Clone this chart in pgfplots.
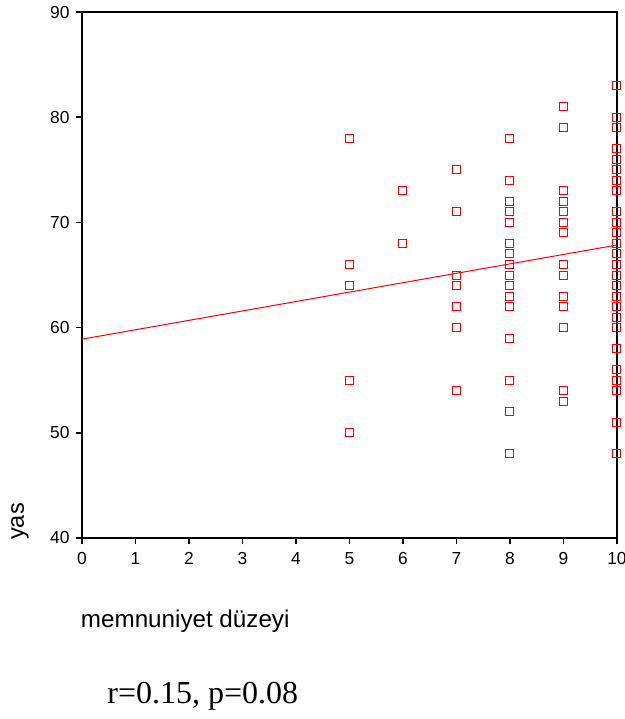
\documentclass[border=0pt]{standalone}
\usepackage{fontspec}
\setmainfont{Liberation Sans}
\newfontfamily\timesfont{Liberation Serif}
\usepackage{pgfplots}
\pgfplotsset{compat=1.18}
\definecolor{ptred}{RGB}{255,0,0}

\begin{document}
\begin{tikzpicture}
  % 1 px of the reference = 0.5pt
  \path[use as bounding box] (-41pt,-90.5pt) rectangle (271.5pt,269pt);
  \begin{axis}[
    at={(0,0)}, anchor=south west,
    scale only axis,
    width=267.5pt, height=263pt,
    xmin=0, xmax=10, ymin=40, ymax=90,
    xtick={0,1,...,10}, ytick={40,50,...,90},
    xtick pos=left, ytick pos=left,
    tick align=outside,
    major tick length=3pt,
    axis line style={line width=0.75pt},
    every tick/.style={black, line width=0.75pt},
    /pgf/number format/assume math mode=true,
    ticklabel style={font=\fontsize{8.7}{10}\selectfont},
    xticklabel style={inner sep=0pt, anchor=base, yshift=-10pt},
    yticklabel style={inner sep=0pt, anchor=east, xshift=-3pt},
    clip=false,
  ]
    \addplot[only marks, mark=square, mark size=2pt, color=ptred,
             mark options={solid, draw=ptred, line width=0.5pt}] coordinates {
      (5,78) (5,66) (5,64) (5,55) (5,50)
      (6,73) (6,68)
      (7,75) (7,71) (7,65) (7,64) (7,62) (7,60) (7,54)
      (8,78) (8,74) (8,72) (8,71) (8,70) (8,70) (8,68) (8,68) (8,67) (8,67)
      (8,66) (8,65) (8,64) (8,64) (8,63) (8,63) (8,62) (8,62) (8,59) (8,55)
      (8,52) (8,48)
      (9,81) (9,79) (9,79) (9,73) (9,72) (9,72) (9,71) (9,70) (9,69) (9,66)
      (9,65) (9,65) (9,63) (9,62) (9,62) (9,60) (9,60) (9,54) (9,53)
      (10,83) (10,80) (10,79) (10,77) (10,77) (10,76) (10,76) (10,75) (10,74)
      (10,74) (10,73) (10,73) (10,71) (10,71) (10,70) (10,69) (10,68) (10,67)
      (10,66) (10,65) (10,65) (10,64) (10,64) (10,63) (10,63) (10,62) (10,61)
      (10,60) (10,60) (10,58) (10,56) (10,55) (10,55) (10,54) (10,51) (10,48)
    };
    \addplot[ptred, line width=0.5pt] coordinates {(0,58.9) (10,67.85)};
  \end{axis}
  \node[rotate=90, anchor=base, inner sep=0pt, font=\fontsize{11.8}{14}\selectfont] at (-29pt,8.25pt) {yas};
  \node[anchor=base west, inner sep=0pt, font=\fontsize{12.1}{14}\selectfont] at (-0.7pt,-44.5pt) {memnuniyet düzeyi};
  \node[anchor=base west, inner sep=0pt, font=\timesfont\fontsize{16}{19}\selectfont] at (12.5pt,-82.5pt) {r=0.15, p=0.08};
\end{tikzpicture}
\end{document}
